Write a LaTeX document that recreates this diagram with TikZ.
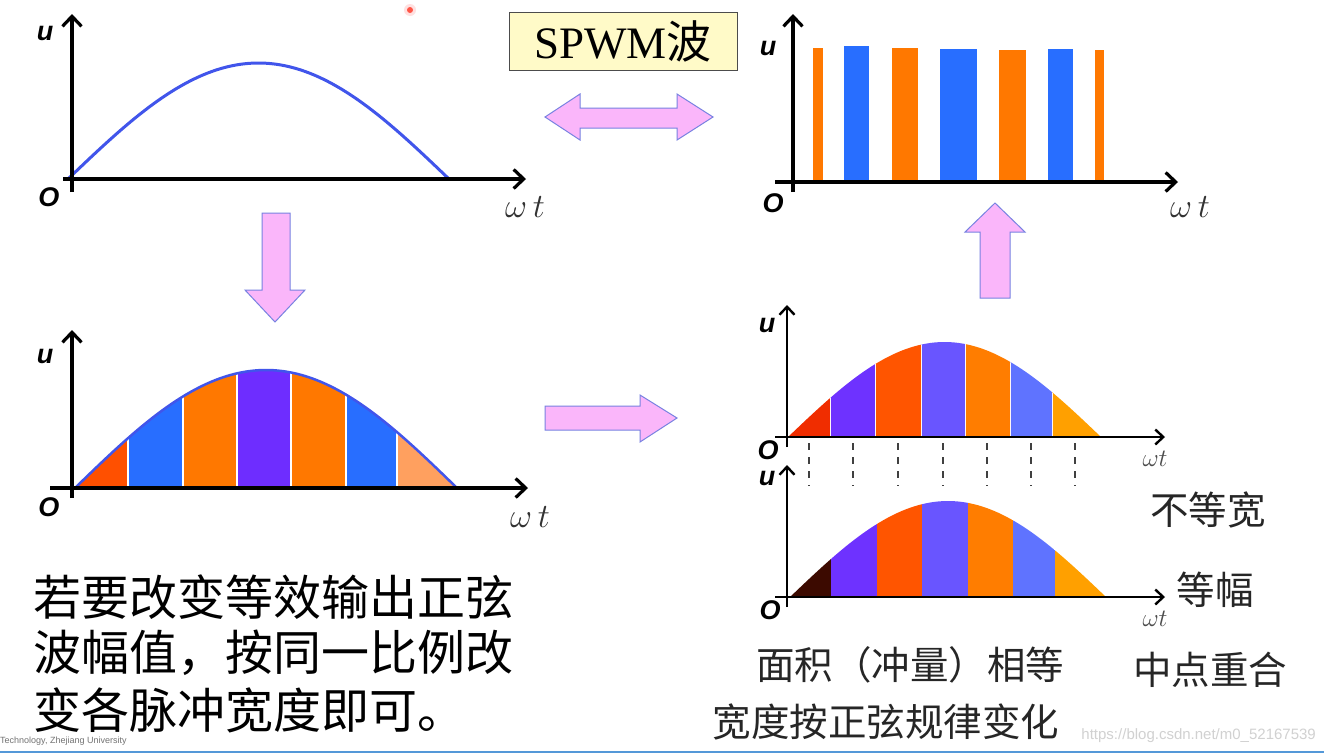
\RequirePackage{fix-cm}
\documentclass[tikz,border=0pt]{standalone}
\usepackage{fontspec}
\setmainfont{Liberation Serif}
\setsansfont{Liberation Sans}
\newfontfamily\cjk{Noto Sans CJK SC}
\usetikzlibrary{arrows.meta}
\definecolor{pinkfill}{RGB}{250,182,250}
\definecolor{pinkedge}{RGB}{120,130,225}
\definecolor{boxfill}{RGB}{255,250,200}
\definecolor{sineblue}{RGB}{65,85,235}
\definecolor{pblue}{RGB}{40,110,255}
\definecolor{porange}{RGB}{255,120,0}
\definecolor{ca}{RGB}{255,80,0}
\definecolor{cb}{RGB}{40,110,255}
\definecolor{cc}{RGB}{255,120,0}
\definecolor{cd}{RGB}{110,45,255}
\definecolor{ce}{RGB}{255,160,95}
\definecolor{da}{RGB}{240,45,0}
\definecolor{db}{RGB}{110,50,255}
\definecolor{dc}{RGB}{255,85,0}
\definecolor{dd}{RGB}{105,85,255}
\definecolor{de}{RGB}{255,125,0}
\definecolor{df}{RGB}{95,115,255}
\definecolor{dg}{RGB}{255,160,0}
\definecolor{dz}{RGB}{60,10,0}
\begin{document}
\begin{tikzpicture}[x=1pt,y=-1pt,
  axis/.style={line width=3.2pt,-{Straight Barb[length=10pt,width=19pt]}},
  thinaxis/.style={line width=2.4pt,-{Straight Barb[length=8pt,width=15pt]}},
  blockarrow/.style={fill=pinkfill,draw=pinkedge,line width=1pt},
  ulab/.style={font=\sffamily\bfseries\itshape\fontsize{27}{27}\selectfont,inner sep=0pt},
  olab/.style={font=\sffamily\bfseries\itshape\fontsize{27}{27}\selectfont,inner sep=0pt},
  wlab/.style={font=\fontsize{34}{34}\selectfont,inner sep=0pt,text=black!80},
  swlab/.style={font=\fontsize{25}{25}\selectfont,inner sep=0pt,text=black!70},
  bigcn/.style={font=\cjk\fontsize{48}{48}\selectfont,inner sep=0pt,anchor=west},
  cn/.style={font=\cjk\fontsize{38.5}{38.5}\selectfont,inner sep=0pt,text=black!85},
  sep/.style={white,line width=1.5pt}]
\useasboundingbox (0,0) rectangle (1324,753);
\fill[white] (0,0) rectangle (1324,753);

% ---------- panel 1: sine ----------
\draw[sineblue,line width=3pt] plot[domain=0:180,samples=80] ({68+\x/180*381},{179-116*sin(\x)});
\draw[axis] (63,179) -- (526,179);
\draw[axis] (72,192) -- (72,14);
\node[ulab] (u1) at (45,33) {u};
\node[olab] (o1) at (49,197) {O};
\node[wlab] (w1) at (525,207) {$\omega\,t$};

% ---------- SPWM box ----------
\node[draw=black!70,fill=boxfill,line width=1pt,minimum width=228pt,minimum height=58pt,inner sep=0pt,
  font=\fontsize{45}{45}\selectfont] (spwm) at (623,41) {SPWM{\cjk 波}};
\fill[red!80!orange] (410,10) circle (3pt);
\fill[red!30,opacity=0.4] (410,10) circle (6pt);

% double arrow
\draw[blockarrow] (545,117) -- (580,94) -- (580,108) -- (677,108) -- (677,94) -- (713,117)
  -- (677,140) -- (677,128) -- (580,128) -- (580,140) -- cycle;

% ---------- panel 2: pulses ----------
\fill[porange] (813,48) rectangle (823,182);
\fill[pblue] (844,46) rectangle (869,183);
\fill[porange] (892,48) rectangle (918,182);
\fill[pblue] (940,49) rectangle (977,183);
\fill[porange] (999,50) rectangle (1026,182);
\fill[pblue] (1048,49) rectangle (1073,183);
\fill[porange] (1095,50) rectangle (1104,182);
\draw[axis] (775,182) -- (1178,182);
\draw[axis] (793,192) -- (793,14);
\node[ulab] (u2) at (768,48) {u};
\node[olab] (o2) at (773,203) {O};
\node[wlab] (w2) at (1190,207) {$\omega\,t$};

% down arrow
\draw[blockarrow] (262,213) -- (290,213) -- (290,290) -- (305,290) -- (275,322) -- (245,290)
  -- (262,290) -- cycle;
% up arrow
\draw[blockarrow] (980,298) -- (1010,298) -- (1010,232) -- (1025,232) -- (995,203) -- (965,232)
  -- (980,232) -- cycle;
% right arrow
\draw[blockarrow] (545,406) -- (640,406) -- (640,395) -- (677,418) -- (640,442) -- (640,430)
  -- (545,430) -- cycle;

% ---------- panel 3: sine with strips ----------
\begin{scope}
\clip plot[domain=0:180,samples=80] ({75+\x/180*382},{488-118*sin(\x)}) -- cycle;
\foreach \a/\b/\c in {75/128/ca,128/183/cb,183/237/cc,237/291/cd,291/346/cc,346/397/cb,397/458/ce}
  \fill[\c] (\a,360) rectangle (\b,489);
\foreach \a in {128,183,237,291,346,397}
  \draw[sep] (\a,360) -- (\a,488);
\end{scope}
\draw[sineblue,line width=2.5pt] plot[domain=0:180,samples=80] ({75+\x/180*382},{488-118*sin(\x)});
\draw[axis] (50,488) -- (528,488);
\draw[axis] (72,498) -- (72,330);
\node[ulab] (u3) at (45,356) {u};
\node[olab] (o3) at (49,507) {O};
\node[wlab] (w3) at (530,517) {$\omega\,t$};

% ---------- panel 4 ----------
\begin{scope}
\clip plot[domain=0:180,samples=80] ({788+\x/180*313},{437-95*sin(\x)}) -- cycle;
\foreach \a/\b/\c in {788/830/da,830/875/db,875/921/dc,921/965/dd,965/1010/de,1010/1052/df,1052/1102/dg}
  \fill[\c] (\a,330) rectangle (\b,438);
\foreach \a in {830,875,921,965,1010,1052}
  \draw[white!85!pink,line width=1pt] (\a,330) -- (\a,437);
\end{scope}
\draw[thinaxis] (775,437) -- (1165,437);
\draw[thinaxis] (787,447) -- (787,305);
\foreach \a in {809,853,898,943,987,1031,1075}
  \draw[black!75,line width=1.3pt,dash pattern=on 7pt off 7pt] (\a,443) -- (\a,486);
\node[ulab] (u4) at (767,325) {u};
\node[olab] (o4) at (768,450) {O};
\node[swlab] (w4) at (1155,459) {$\omega t$};

% ---------- panel 5 ----------
\begin{scope}
\clip plot[domain=0:180,samples=80] ({790+\x/180*316},{597-96*sin(\x)}) -- cycle;
\foreach \a/\b/\c in {790/831/dz,831/877/db,877/922/dc,922/968/dd,968/1013/de,1013/1055/df,1055/1107/dg}
  \fill[\c] (\a,495) rectangle (\b,598);
\end{scope}
\draw[thinaxis] (775,597) -- (1165,597);
\draw[thinaxis] (787,607) -- (787,465);
\node[ulab] (u5) at (767,478) {u};
\node[olab] (o5) at (770,610) {O};
\node[swlab] (w5) at (1155,619) {$\omega t$};

% ---------- texts ----------
\node[cn] (t1) at (1208,510) {不等宽};
\node[cn] (t2) at (1215,590) {等幅};
\node[cn] (t3) at (910,665) {面积（冲量）相等};
\node[cn] (t4) at (1210,670) {中点重合};
\node[cn] (t5) at (886,722) {宽度按正弦规律变化};
\node[bigcn] (l1) at (33,597) {若要改变等效输出正弦};
\node[bigcn] (l2) at (33,653) {波幅值，按同一比例改};
\node[bigcn] (l3) at (33,710) {变各脉冲宽度即可。};

% watermarks
\node[font=\sffamily\fontsize{15}{15}\selectfont,text=black!18,anchor=east,inner sep=0pt] (wm) at (1316,736) {https://blog.csdn.net/m0\_52167539};
\node[font=\sffamily\fontsize{9}{9}\selectfont,text=black!55,anchor=west,inner sep=0pt] (wm2) at (0,741) {Technology, Zhejiang University};
\draw[cyan!60!blue!70,line width=2pt] (0,752) -- (1324,752);
\end{tikzpicture}
\end{document}
